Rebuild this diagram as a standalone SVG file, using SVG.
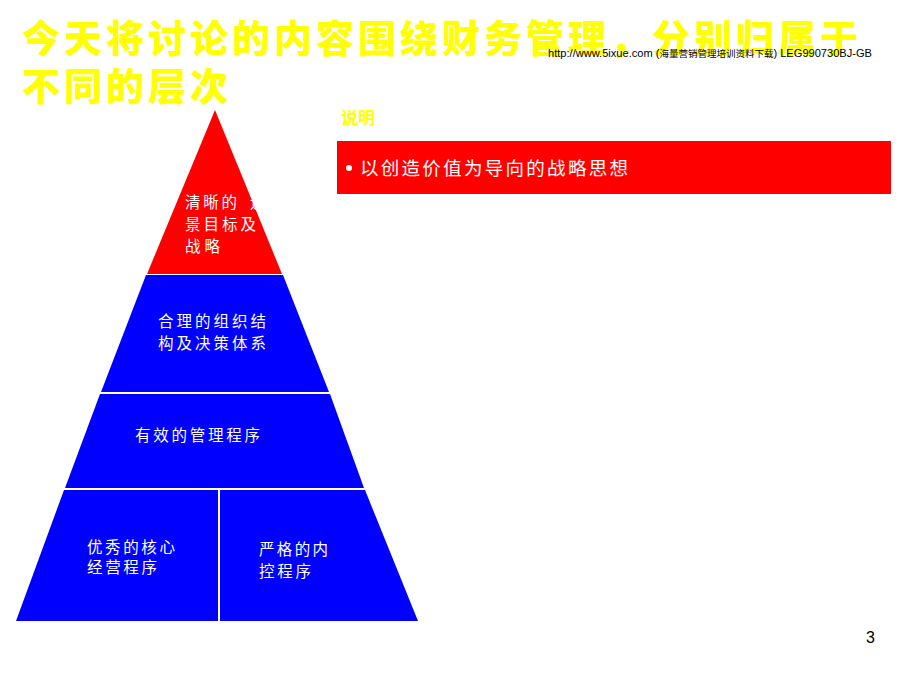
<svg xmlns="http://www.w3.org/2000/svg" width="920" height="691" viewBox="0 0 920 691">
<style>
.t{font-family:"Noto Sans CJK SC","Liberation Sans",sans-serif}
.title{font-size:38px;font-weight:900;fill:#FFFF00}
.w{fill:#fff;font-size:15.5px}
.blue{fill:#0000FF}
</style>
<rect width="920" height="691" fill="#fff"/>
<g id="title">
<text class="t title" x="22" y="52" textLength="836" lengthAdjust="spacing">今天将讨论的内容围绕财务管理，分别归属于</text>
<text class="t title" x="22" y="100" textLength="206" lengthAdjust="spacing">不同的层次</text>
</g>
<g id="source">
<text x="548" y="57" font-family="Liberation Sans,sans-serif" font-size="10.5" fill="#000" textLength="324" lengthAdjust="spacingAndGlyphs">http://www.5ixue.com (<tspan class="t" font-size="9">海量营销管理培训资料下载</tspan>) LEG990730BJ-GB</text>
</g>
<g id="pyramid">
<g id="level1">
<polygon points="215,110 282,274 147,274" fill="#FF0000"/>
<text class="t w" x="185" y="208" textLength="52" lengthAdjust="spacing">清晰的</text>
<text class="t w" x="250" y="208">远</text>
<text class="t w" x="185" y="230" textLength="71" lengthAdjust="spacing">景目标及</text>
<text class="t w" x="185" y="252" textLength="35" lengthAdjust="spacing">战略</text>
</g>
<g id="level2">
<polygon points="146,275 283,275 329,392 101,392" class="blue"/>
<text class="t w" x="158" y="327" textLength="108" lengthAdjust="spacing">合理的组织结</text>
<text class="t w" x="158" y="349" textLength="108" lengthAdjust="spacing">构及决策体系</text>
</g>
<g id="level3">
<polygon points="100,394 330,394 364,488 65,488" class="blue"/>
<text class="t w" x="135" y="441" textLength="125" lengthAdjust="spacing">有效的管理程序</text>
</g>
<g id="level4a">
<polygon points="64,490 218,490 218,621 16,621" class="blue"/>
<text class="t w" x="87" y="553" textLength="88" lengthAdjust="spacing">优秀的核心</text>
<text class="t w" x="87" y="573" textLength="70" lengthAdjust="spacing">经营程序</text>
</g>
<g id="level4b">
<polygon points="220,490 365,490 418,621 220,621" class="blue"/>
<text class="t w" x="259" y="555" textLength="69" lengthAdjust="spacing">严格的内</text>
<text class="t w" x="259" y="577" textLength="52" lengthAdjust="spacing">控程序</text>
</g>
</g>
<g id="note">
<text class="t" x="341" y="124" font-size="17" font-weight="bold" fill="#FFFF00">说明</text>
<rect x="337" y="141" width="554" height="53" fill="#FF0000"/>
<circle cx="349" cy="168" r="3" fill="#fff"/>
<text class="t" x="360" y="175" font-size="18.5" fill="#fff" textLength="268" lengthAdjust="spacing">以创造价值为导向的战略思想</text>
</g>
<g id="connectors"></g>
<text x="866" y="643" font-family="Liberation Sans,sans-serif" font-size="16" fill="#000">3</text>
</svg>
